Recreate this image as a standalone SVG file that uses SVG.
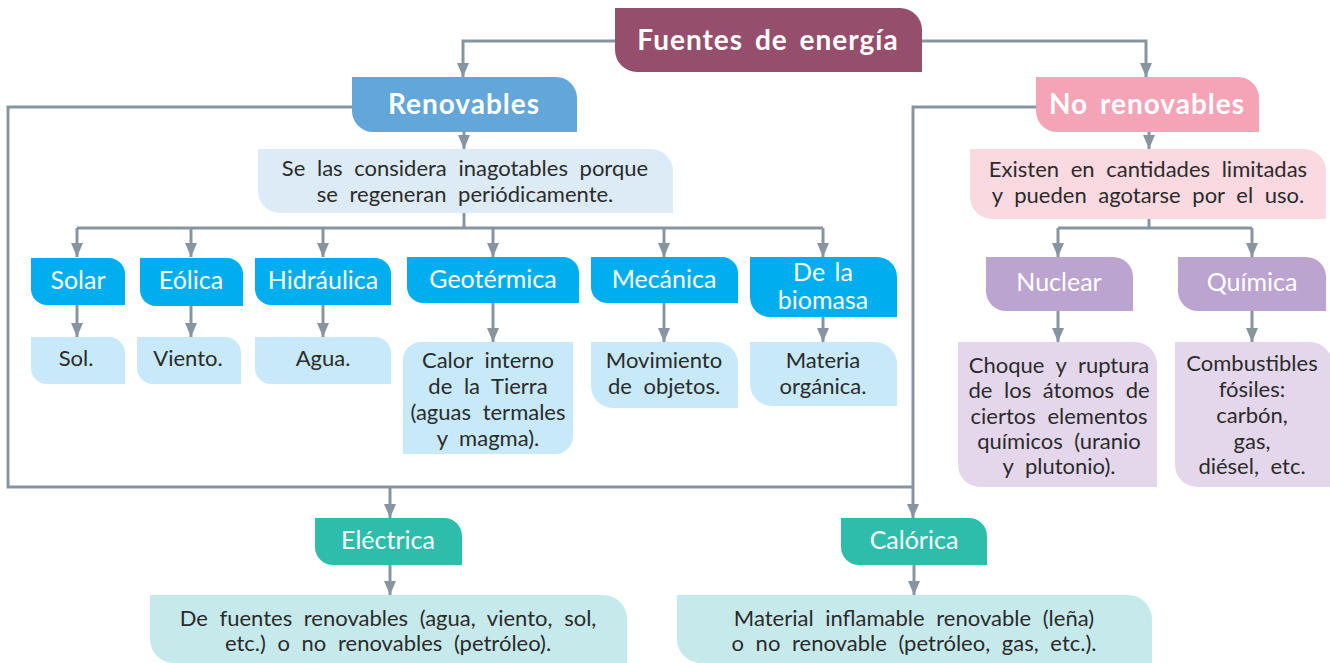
<svg xmlns="http://www.w3.org/2000/svg" width="1330" height="663" viewBox="0 0 1330 663">
<defs>
<marker id="arr" markerUnits="userSpaceOnUse" markerWidth="14" markerHeight="12" refX="14" refY="6" orient="auto">
<path d="M0,0 L14,6 L0,12 Z" fill="#8795a1"/>
</marker>
<style>
.c{fill:none;stroke:#8795a1;stroke-width:3}
.a{marker-end:url(#arr)}
text{font-family:Lato,"Open Sans","Noto Sans",sans-serif;text-anchor:middle}
.h{font-weight:bold;font-size:28px;fill:#fff;letter-spacing:1px;word-spacing:4px}
.s{font-size:25px;fill:#fff;word-spacing:3px}
.d{font-size:22px;fill:#2b2b2b;word-spacing:6px}
.fuentes{fill:#964e6d}
.ren{fill:#62a6da}
.noren{fill:#f5a3b7}
.rend{fill:#ddebf7}
.norend{fill:#fad9e1}
.sub{fill:#00aeef}
.res{fill:#c7e9f9}
.nuc{fill:#bba4cf}
.nucd{fill:#e5d7eb}
.te{fill:#2ebdab}
.ted{fill:#c6eaeb}
</style>
</defs>
<rect width="1330" height="663" fill="#fff"/>
<g id="connectors">
<path class="c a" d="M615,41 H463 V77"/>
<path class="c a" d="M922,41 H1146 V77"/>
<path class="c a" d="M464,132 V149"/>
<path class="c a" d="M1149,132 V149"/>
<path class="c" d="M464,213 V228 M77,228 H823"/>
<path class="c a" d="M77,228 V257"/>
<path class="c a" d="M191,228 V257"/>
<path class="c a" d="M323,228 V257"/>
<path class="c a" d="M493,228 V257"/>
<path class="c a" d="M664,228 V257"/>
<path class="c a" d="M823,228 V257"/>
<path class="c a" d="M77,305 V337"/>
<path class="c a" d="M191,306 V337"/>
<path class="c a" d="M323,305 V337"/>
<path class="c a" d="M493,303 V342"/>
<path class="c a" d="M664,303 V342"/>
<path class="c a" d="M823,317 V342"/>
<path class="c" d="M1149,219 V228 M1058,228 H1252"/>
<path class="c a" d="M1058,228 V257"/>
<path class="c a" d="M1252,228 V257"/>
<path class="c a" d="M1058,311 V342"/>
<path class="c a" d="M1252,311 V342"/>
<path class="c" d="M352,107 H8 V487 H913"/>
<path class="c a" d="M1036,107 H913 V518"/>
<path class="c a" d="M390,487 V518"/>
<path class="c a" d="M390,565 V595"/>
<path class="c a" d="M914,565 V595"/>
</g>
<g id="fuentes">
<path class="fuentes" d="M615,8H900A22,22 0 0 1 922,30V72H637A22,22 0 0 1 615,50Z"/>
<text class="h" x="768" y="50">Fuentes de energía</text>
</g>
<g id="renovables">
<path class="ren" d="M352,77H556A21,21 0 0 1 577,98V132H373A21,21 0 0 1 352,111Z"/>
<text class="h" x="464" y="114">Renovables</text>
</g>
<g id="no-renovables">
<path class="noren" d="M1036,77H1238A21,21 0 0 1 1259,98V132H1057A21,21 0 0 1 1036,111Z"/>
<text class="h" x="1147" y="114">No renovables</text>
</g>
<g id="renovables-desc">
<path class="rend" d="M258,149H651A22,22 0 0 1 673,171V213H280A22,22 0 0 1 258,191Z"/>
<text class="d" x="465" y="176">Se las considera inagotables porque</text>
<text class="d" x="465" y="202">se regeneran periódicamente.</text>
</g>
<g id="no-renovables-desc">
<path class="norend" d="M970,149H1304A22,22 0 0 1 1326,171V219H992A22,22 0 0 1 970,197Z"/>
<text class="d" x="1148" y="177">Existen en cantidades limitadas</text>
<text class="d" x="1148" y="203">y pueden agotarse por el uso.</text>
</g>
<g id="solar">
<path class="sub" d="M31,258H109A16,16 0 0 1 125,274V305H47A16,16 0 0 1 31,289Z"/>
<text class="s" x="78" y="289">Solar</text>
</g>
<g id="eolica">
<path class="sub" d="M140,258H227A16,16 0 0 1 243,274V306H156A16,16 0 0 1 140,290Z"/>
<text class="s" x="191" y="289">Eólica</text>
</g>
<g id="hidraulica">
<path class="sub" d="M255,258H375A16,16 0 0 1 391,274V305H271A16,16 0 0 1 255,289Z"/>
<text class="s" x="323" y="289">Hidráulica</text>
</g>
<g id="geotermica">
<path class="sub" d="M407,257H563A16,16 0 0 1 579,273V303H423A16,16 0 0 1 407,287Z"/>
<text class="s" x="493" y="288">Geotérmica</text>
</g>
<g id="mecanica">
<path class="sub" d="M591,257H722A16,16 0 0 1 738,273V303H607A16,16 0 0 1 591,287Z"/>
<text class="s" x="664" y="288">Mecánica</text>
</g>
<g id="biomasa">
<path class="sub" d="M750,257H877A20,20 0 0 1 897,277V317H770A20,20 0 0 1 750,297Z"/>
<text class="s" x="823" y="281">De la</text>
<text class="s" x="823" y="309">biomasa</text>
</g>
<g id="sol">
<path class="res" d="M31,337H109A16,16 0 0 1 125,353V384H47A16,16 0 0 1 31,368Z"/>
<text class="d" x="76" y="366">Sol.</text>
</g>
<g id="viento">
<path class="res" d="M137,337H225A16,16 0 0 1 241,353V384H153A16,16 0 0 1 137,368Z"/>
<text class="d" x="188" y="366">Viento.</text>
</g>
<g id="agua">
<path class="res" d="M255,337H375A16,16 0 0 1 391,353V384H271A16,16 0 0 1 255,368Z"/>
<text class="d" x="323" y="366">Agua.</text>
</g>
<g id="calor">
<path class="res" d="M421,342H573V436A18,18 0 0 1 555,454H403V360A18,18 0 0 1 421,342Z"/>
<text class="d" x="488" y="368">Calor interno</text>
<text class="d" x="488" y="394">de la Tierra</text>
<text class="d" x="488" y="420">(aguas termales</text>
<text class="d" x="488" y="446">y magma).</text>
</g>
<g id="movimiento">
<path class="res" d="M591,342H716A22,22 0 0 1 738,364V408H613A22,22 0 0 1 591,386Z"/>
<text class="d" x="664" y="368">Movimiento</text>
<text class="d" x="664" y="394">de objetos.</text>
</g>
<g id="materia">
<path class="res" d="M750,342H875A22,22 0 0 1 897,364V406H772A22,22 0 0 1 750,384Z"/>
<text class="d" x="823" y="368">Materia</text>
<text class="d" x="823" y="394">orgánica.</text>
</g>
<g id="nuclear">
<path class="nuc" d="M986,257H1113A20,20 0 0 1 1133,277V311H1006A20,20 0 0 1 986,291Z"/>
<text class="s" x="1059" y="291">Nuclear</text>
</g>
<g id="quimica">
<path class="nuc" d="M1178,257H1306A20,20 0 0 1 1326,277V311H1198A20,20 0 0 1 1178,291Z"/>
<text class="s" x="1252" y="291">Química</text>
</g>
<g id="choque">
<path class="nucd" d="M958,342H1135A22,22 0 0 1 1157,364V487H980A22,22 0 0 1 958,465Z"/>
<text class="d" x="1059" y="373">Choque y ruptura</text>
<text class="d" x="1059" y="398">de los átomos de</text>
<text class="d" x="1059" y="424">ciertos elementos</text>
<text class="d" x="1059" y="449">químicos (uranio</text>
<text class="d" x="1059" y="474">y plutonio).</text>
</g>
<g id="combustibles">
<path class="nucd" d="M1175,342H1310A22,22 0 0 1 1332,364V487H1197A22,22 0 0 1 1175,465Z"/>
<text class="d" x="1252" y="371">Combustibles</text>
<text class="d" x="1252" y="397">fósiles:</text>
<text class="d" x="1252" y="423">carbón,</text>
<text class="d" x="1252" y="449">gas,</text>
<text class="d" x="1252" y="474">diésel, etc.</text>
</g>
<g id="electrica">
<path class="te" d="M315,518H444A18,18 0 0 1 462,536V565H333A18,18 0 0 1 315,547Z"/>
<text class="s" x="388" y="549">Eléctrica</text>
</g>
<g id="calorica">
<path class="te" d="M841,518H969A18,18 0 0 1 987,536V565H859A18,18 0 0 1 841,547Z"/>
<text class="s" x="914" y="549">Calórica</text>
</g>
<g id="electrica-desc">
<path class="ted" d="M150,595H603A24,24 0 0 1 627,619V663H174A24,24 0 0 1 150,639Z"/>
<text class="d" x="388" y="626">De fuentes renovables (agua, viento, sol,</text>
<text class="d" x="388" y="651">etc.) o no renovables (petróleo).</text>
</g>
<g id="calorica-desc">
<path class="ted" d="M677,595H1128A24,24 0 0 1 1152,619V663H701A24,24 0 0 1 677,639Z"/>
<text class="d" x="914" y="626">Material inflamable renovable (leña)</text>
<text class="d" x="914" y="651">o no renovable (petróleo, gas, etc.).</text>
</g>
</svg>
